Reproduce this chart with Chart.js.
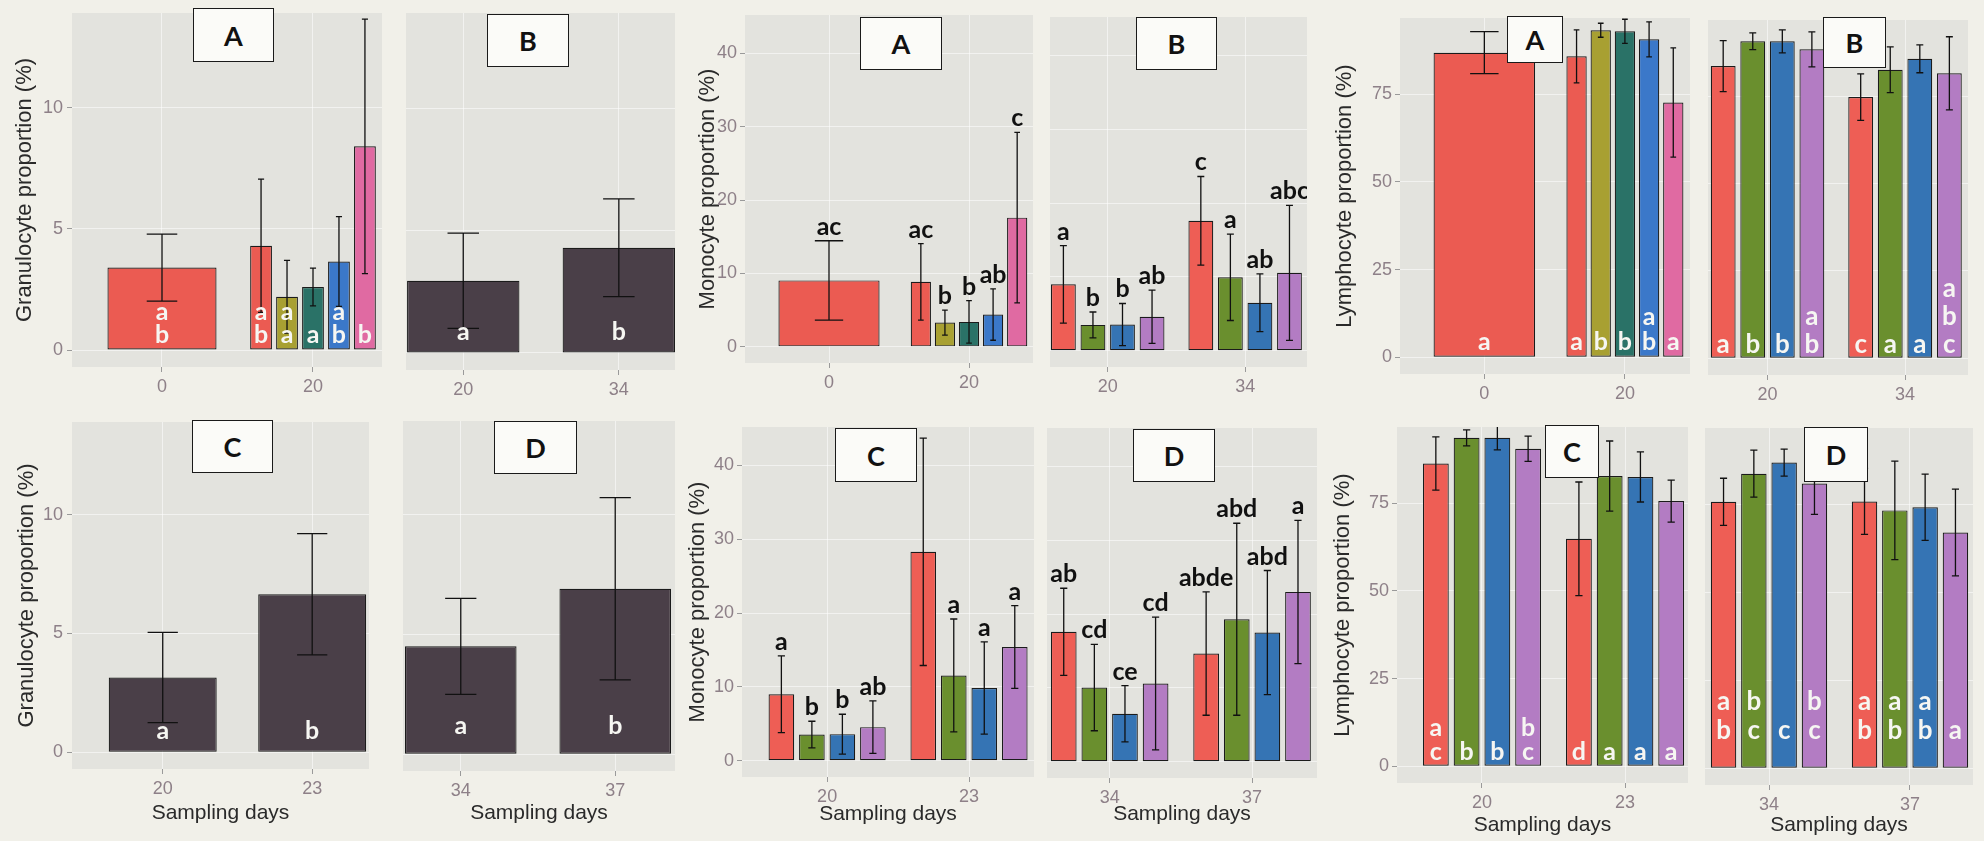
<!DOCTYPE html>
<html>
<head>
<meta charset="utf-8">
<script src="https://cdn.jsdelivr.net/npm/chart.js@4.4.1/dist/chart.umd.min.js"></script>
<style>
  html, body { margin: 0; padding: 0; width: 1984px; height: 841px; overflow: hidden; background: #F1F0E9; }
  .panel { position: absolute; }
  .tag {
    position: absolute; box-sizing: border-box; border: 1.5px solid #1a1a1a; background: #FBFBF8;
    font: bold 27px Lato, sans-serif; color: #111; display: flex; align-items: center; justify-content: center;
  }
</style>
</head>
<body>
<script>
// ---- data: mean, sd and significance letters per treatment (rows) and sampling day (columns) ----

// Granulocyte
var granA_days = ['0', '20'];
var granA_mean = [[3.4, 4.3], [null, 2.2], [null, 2.6], [null, 3.65], [null, 8.4]];
var granA_sd = [[1.38, 2.75], [null, 1.5], [null, 0.78], [null, 1.85], [null, 5.25]];
var granA_letters = [['ab', 'ab'], [null, 'aa'], [null, 'a'], [null, 'ab'], [null, 'b']];

var granB_days = ['20', '34'];
var granB_mean = [[2.95, 4.3]];
var granB_sd = [[1.95, 2.0]];
var granB_letters = [['a', 'b']];

var granC_days = ['20', '23'];
var granC_mean = [[3.15, 6.65]];
var granC_sd = [[1.9, 2.55]];
var granC_letters = [['a', 'b']];

var granD_days = ['34', '37'];
var granD_mean = [[4.5, 6.9]];
var granD_sd = [[2.0, 3.8]];
var granD_letters = [['a', 'b']];

// Monocyte
var monoA_days = ['0', '20'];
var monoA_mean = [[9.05, 8.85], [null, 3.3], [null, 3.4], [null, 4.4], [null, 17.6]];
var monoA_sd = [[5.4, 5.2], [null, 1.7], [null, 2.9], [null, 3.5], [null, 11.6]];
var monoA_letters = [['ac', 'ac'], [null, 'b'], [null, 'b'], [null, 'ab'], [null, 'c']];

var monoB_days = ['20', '34'];
var monoB_mean = [[9.0, 17.6], [3.5, 9.95], [3.55, 6.5], [4.6, 10.55]];
var monoB_sd = [[5.25, 6.0], [1.75, 5.85], [2.85, 3.9], [3.6, 9.15]];
var monoB_letters = [['a', 'c'], ['b', 'a'], ['b', 'ab'], ['ab', 'abc']];

var monoC_days = ['20', '23'];
var monoC_mean = [[9.0, 28.3], [3.55, 11.55], [3.6, 9.85], [4.55, 15.4]];
var monoC_sd = [[5.2, 15.4], [1.8, 7.65], [2.7, 6.25], [3.55, 5.6]];
var monoC_letters = [['a', 'c'], ['b', 'a'], ['b', 'a'], ['ab', 'a']];

var monoD_days = ['34', '37'];
var monoD_mean = [[17.6, 14.65], [10.05, 19.3], [6.5, 17.5], [10.6, 23.0]];
var monoD_sd = [[5.9, 8.35], [5.85, 13.0], [3.8, 8.4], [9.0, 9.7]];
var monoD_letters = [['ab', 'abde'], ['cd', 'abd'], ['ce', 'abd'], ['cd', 'a']];

// Lymphocyte
var lymA_days = ['0', '20'];
var lymA_mean = [[86.9, 85.85], [null, 93.3], [null, 93.0], [null, 90.7], [null, 72.7]];
var lymA_sd = [[6.0, 7.55], [null, 2.0], [null, 3.45], [null, 5.0], [null, 15.6]];
var lymA_letters = [['a', 'a'], [null, 'b'], [null, 'b'], [null, 'ab'], [null, 'a']];

var lymB_days = ['20', '34'];
var lymB_mean = [[83.6, 74.75], [90.7, 82.55], [90.7, 85.7], [88.4, 81.55]];
var lymB_sd = [[7.3, 6.65], [2.4, 6.55], [3.3, 4.0], [5.0, 10.45]];
var lymB_letters = [['a', 'c'], ['b', 'a'], ['b', 'a'], ['ab', 'abc']];

var lymC_days = ['20', '23'];
var lymC_mean = [[86.4, 64.9], [93.7, 82.8], [93.7, 82.55], [90.6, 75.65]];
var lymC_sd = [[7.6, 16.2], [2.3, 10.0], [3.4, 7.15], [3.6, 6.0]];
var lymC_letters = [['ac', 'd'], ['b', 'a'], ['b', 'a'], ['bc', 'a']];

var lymD_days = ['34', '37'];
var lymD_mean = [[75.8, 75.9], [83.8, 73.35], [86.95, 74.25], [81.0, 67.05]];
var lymD_sd = [[6.7, 9.4], [6.7, 14.0], [3.85, 9.45], [8.8, 12.35]];
var lymD_letters = [['ab', 'ab'], ['bc', 'ab'], ['c', 'ab'], ['bc', 'a']];

// y axis ticks
var granTicks = [0, 5, 10];
var monoTicks = [0, 10, 20, 30, 40];
var lymTicks = [0, 25, 50, 75];

// ---- styles ----
var fiveColors = ['#EB5B52', '#A8A032', '#2A7267', '#3B78C9', '#E06AA2'];
var fourColors = ['#EE5E55', '#6A8F2E', '#3574B4', '#B37CC3'];
var darkColors = ['#4A3F48'];
var tickColor = '#8E8088';
var titleColor = '#2a2a2a';

var granRange = [-0.7, 13.9];
var monoRange = [-2.2, 45.2];
var lymRange = [-4.8, 96.8];

Chart.defaults.font.family = 'Liberation Sans';

// grey panel, error bars and letters
var panelDecor = {
  id: 'panelDecor',
  beforeDraw: function(chart) {
    var a = chart.chartArea, ctx = chart.ctx;
    ctx.save();
    ctx.fillStyle = '#E3E3DE';
    ctx.fillRect(a.left, a.top, a.right - a.left, a.bottom - a.top);
    ctx.restore();
  },
  afterDatasetsDraw: function(chart, args, o) {
    var ctx = chart.ctx, ys = chart.scales.y;
    var zero = ys.getPixelForValue(0);
    ctx.save();
    chart.data.datasets.forEach(function(ds, di) {
      var meta = chart.getDatasetMeta(di);
      meta.data.forEach(function(bar, i) {
        var m = ds.data[i].y;
        if (m === null) return;
        var s = o.sd[di][i];
        var p = bar.getProps(['x', 'width'], true);
        var top = ys.getPixelForValue(m + s), bot = ys.getPixelForValue(m - s);
        var cap = p.width * 0.14;
        ctx.strokeStyle = '#111';
        ctx.lineWidth = 1.3;
        ctx.beginPath();
        ctx.moveTo(p.x, top); ctx.lineTo(p.x, bot);
        ctx.moveTo(p.x - cap, top); ctx.lineTo(p.x + cap, top);
        ctx.moveTo(p.x - cap, bot); ctx.lineTo(p.x + cap, bot);
        ctx.stroke();

        var txt = o.letters[di][i];
        if (!txt) return;
        ctx.font = 'bold ' + o.letterSize + 'px Lato';
        ctx.textAlign = 'center';
        var atBase = o.baseLetter && o.baseLetter[0] === di && o.baseLetter[1] === i;
        if (o.mode === 'above' && !atBase) {
          ctx.fillStyle = '#111';
          ctx.textBaseline = 'alphabetic';
          ctx.fillText(txt, p.x, top - o.aboveGap);
        } else {
          ctx.fillStyle = atBase ? '#111' : '#F6F6F2';
          ctx.textBaseline = 'middle';
          var chars = txt.split('');
          chars.forEach(function(c, k) {
            ctx.fillText(c, p.x, zero - o.baseOff - (chars.length - 1 - k) * o.lineGap);
          });
        }
      });
    });
    ctx.restore();
  }
};

var panels = [
  // Granulocyte
  { bg: [72, 13, 382, 367], xr: [-0.596, 1.457], days: granA_days, mean: granA_mean, sd: granA_sd, letters: granA_letters,
    colors: fiveColors, yr: granRange, yTicks: granTicks, yTitle: 'Granulocyte proportion (%)', yw: 72, yTitlePad: 12, tickPad: 4,
    xh: 32, mode: 'inside', baseOff: 15, lineGap: 23, letterSize: 25, tag: ['A', 193, 8, 81, 54] },
  { bg: [406, 13, 675, 370], xr: [-0.368, 1.361], days: granB_days, mean: granB_mean, sd: granB_sd, letters: granB_letters,
    colors: darkColors, yr: granRange, yTicks: granTicks,
    xh: 32, mode: 'inside', baseOff: 21, lineGap: 23, letterSize: 25, tag: ['B', 487, 14, 82, 53] },
  { bg: [72, 422, 369, 769], xr: [-0.607, 1.38], days: granC_days, mean: granC_mean, sd: granC_sd, letters: granC_letters,
    colors: darkColors, yr: granRange, yTicks: granTicks, yTitle: 'Granulocyte proportion (%)', yw: 72, yTitlePad: 14, tickPad: 4,
    xh: 61, xTitle: true, mode: 'inside', baseOff: 21, lineGap: 23, letterSize: 25, tag: ['C', 192, 420, 81, 53] },
  { bg: [403, 421, 675, 771], xr: [-0.374, 1.387], days: granD_days, mean: granD_mean, sd: granD_sd, letters: granD_letters,
    colors: darkColors, yr: granRange, yTicks: granTicks,
    xh: 59, xTitle: true, mode: 'inside', baseOff: 28, lineGap: 23, letterSize: 25, tag: ['D', 494, 421, 83, 53] },

  // Monocyte
  { bg: [745, 15, 1033, 363], xr: [-0.6, 1.457], days: monoA_days, mean: monoA_mean, sd: monoA_sd, letters: monoA_letters,
    colors: fiveColors, yr: monoRange, yTicks: monoTicks, yTitle: 'Monocyte proportion (%)', yw: 55, yTitlePad: 5, tickPad: 3,
    xh: 32, mode: 'above', aboveGap: 6, letterSize: 25, tag: ['A', 860, 17, 82, 53] },
  { bg: [1050, 17, 1307, 367], xr: [-0.42, 1.45], days: monoB_days, mean: monoB_mean, sd: monoB_sd, letters: monoB_letters,
    colors: fourColors, yr: monoRange, yTicks: monoTicks,
    xh: 32, mode: 'above', aboveGap: 6, letterSize: 25, tag: ['B', 1136, 17, 81, 53] },
  { bg: [742, 427, 1034, 777], xr: [-0.6, 1.458], days: monoC_days, mean: monoC_mean, sd: monoC_sd, letters: monoC_letters,
    colors: fourColors, yr: monoRange, yTicks: monoTicks, yTitle: 'Monocyte proportion (%)', yw: 62, yTitlePad: 5, tickPad: 3,
    xh: 54, xTitle: true, mode: 'above', aboveGap: 6, baseLetter: [0, 1], baseOff: 14, letterSize: 25, tag: ['C', 835, 428, 82, 54] },
  { bg: [1047, 428, 1317, 778], xr: [-0.44, 1.456], days: monoD_days, mean: monoD_mean, sd: monoD_sd, letters: monoD_letters,
    colors: fourColors, yr: monoRange, yTicks: monoTicks,
    xh: 53, xTitle: true, mode: 'above', aboveGap: 6, letterSize: 25, tag: ['D', 1133, 429, 82, 53] },

  // Lymphocyte
  { bg: [1400, 18, 1690, 374], xr: [-0.6, 1.463], days: lymA_days, mean: lymA_mean, sd: lymA_sd, letters: lymA_letters,
    colors: fiveColors, yr: lymRange, yTicks: lymTicks, yTitle: 'Lymphocyte proportion (%)', yw: 75, yTitlePad: 7, tickPad: 3,
    xh: 32, mode: 'inside', baseOff: 15, lineGap: 25, letterSize: 25, tag: ['A', 1507, 16, 56, 47] },
  { bg: [1708, 20, 1968, 375], xr: [-0.433, 1.458], days: lymB_days, mean: lymB_mean, sd: lymB_sd, letters: lymB_letters,
    colors: fourColors, yr: lymRange, yTicks: lymTicks,
    xh: 32, mode: 'inside', baseOff: 14, lineGap: 28, letterSize: 26, tag: ['B', 1823, 17, 63, 51] },
  { bg: [1397, 427, 1688, 783], xr: [-0.594, 1.44], days: lymC_days, mean: lymC_mean, sd: lymC_sd, letters: lymC_letters,
    colors: fourColors, yr: lymRange, yTicks: lymTicks, yTitle: 'Lymphocyte proportion (%)', yw: 75, yTitlePad: 8, tickPad: 3,
    xh: 59, xTitle: true, mode: 'inside', baseOff: 14, lineGap: 24, letterSize: 25, tag: ['C', 1545, 425, 54, 53] },
  { bg: [1705, 428, 1973, 785], xr: [-0.454, 1.447], days: lymD_days, mean: lymD_mean, sd: lymD_sd, letters: lymD_letters,
    colors: fourColors, yr: lymRange, yTicks: lymTicks,
    xh: 57, xTitle: true, mode: 'inside', baseOff: 38, lineGap: 29, letterSize: 26, tag: ['D', 1804, 427, 64, 55] }
];

function addPanel(p) {
  var yw = p.yTitle ? p.yw : 0;
  var w = p.bg[2] - p.bg[0] + yw;
  var h = p.bg[3] - p.bg[1] + p.xh;
  var cv = document.createElement('canvas');
  cv.width = w;
  cv.height = h;
  cv.className = 'panel';
  cv.style.left = (p.bg[0] - yw) + 'px';
  cv.style.top = p.bg[1] + 'px';
  document.body.appendChild(cv);

  var datasets = p.mean.map(function(vals, di) {
    return {
      data: vals.map(function(v, i) { return { x: i, y: v }; }),
      backgroundColor: p.colors[di],
      borderColor: '#1b1b1b',
      borderWidth: 1.2,
      borderSkipped: false,
      categoryPercentage: 0.86,
      barPercentage: 0.84,
      skipNull: true
    };
  });

  new Chart(cv, {
    type: 'bar',
    data: { datasets: datasets },
    options: {
      responsive: false,
      animation: false,
      events: [],
      layout: { padding: 0 },
      plugins: {
        legend: { display: false },
        tooltip: { enabled: false },
        panelDecor: {
          sd: p.sd, letters: p.letters, mode: p.mode, baseOff: p.baseOff, lineGap: p.lineGap,
          aboveGap: p.aboveGap, letterSize: p.letterSize, baseLetter: p.baseLetter
        }
      },
      scales: {
        x: {
          type: 'linear',
          min: p.xr[0],
          max: p.xr[1],
          offset: false,
          border: { display: false },
          grid: { color: 'rgba(255,255,255,0.55)', offset: false, tickLength: 5, tickColor: '#9a9a9a' },
          afterBuildTicks: function(s) {
            s.ticks = p.days.map(function(d, i) { return { value: i }; });
          },
          ticks: {
            color: tickColor, font: { size: 18 }, padding: 4, maxRotation: 0, autoSkip: false,
            callback: function(v) { return p.days[v]; }
          },
          title: {
            display: !!p.xTitle, text: 'Sampling days', color: titleColor,
            font: { size: 21 }, padding: { top: 0, bottom: 4 }
          },
          afterFit: function(s) { s.height = p.xh; s.paddingLeft = 0; s.paddingRight = 0; }
        },
        y: {
          type: 'linear',
          min: p.yr[0],
          max: p.yr[1],
          border: { display: false },
          grid: { color: 'rgba(255,255,255,0.55)', drawTicks: !!p.yTitle, tickLength: 5, tickColor: '#9a9a9a' },
          afterBuildTicks: function(s) {
            s.ticks = p.yTicks.map(function(v) { return { value: v }; });
          },
          ticks: { display: !!p.yTitle, color: tickColor, font: { size: 18 }, padding: p.tickPad || 3 },
          title: {
            display: !!p.yTitle, text: p.yTitle || '', color: titleColor,
            font: { size: 22 }, padding: { top: p.yTitlePad || 0, bottom: 0 }
          },
          afterFit: function(s) { s.width = yw; s.paddingTop = 0; s.paddingBottom = 0; }
        }
      }
    },
    plugins: [panelDecor]
  });

  // facet tag box
  var t = document.createElement('div');
  t.className = 'tag';
  t.textContent = p.tag[0];
  t.style.left = p.tag[1] + 'px';
  t.style.top = p.tag[2] + 'px';
  t.style.width = p.tag[3] + 'px';
  t.style.height = p.tag[4] + 'px';
  document.body.appendChild(t);
}

panels.forEach(addPanel);
</script>
</body>
</html>
